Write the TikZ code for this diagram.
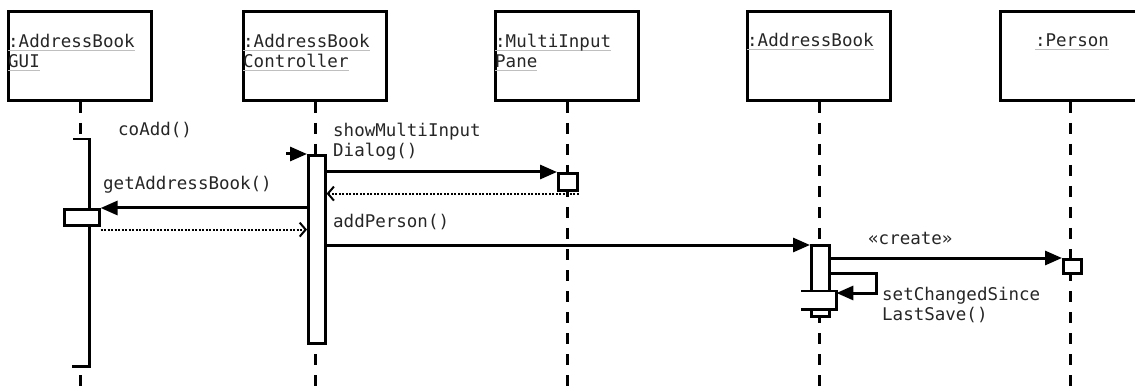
\documentclass[tikz,border=0pt]{standalone}
\usepackage{fontspec}
\setmonofont{DejaVu Sans Mono}
\usetikzlibrary{arrows.meta}
\newcommand\gul[1]{\setbox0\hbox{#1}\rlap{\color{black!25}\rule[-3.5pt]{\wd0}{1.6pt}}\box0}
\begin{document}
\begin{tikzpicture}[x=1pt,y=-1pt,
  objbox/.style={draw, line width=3pt, minimum width=143pt, minimum height=89pt, inner sep=0pt, anchor=north},
  life/.style={line width=3pt, dash pattern=on 11pt off 10pt},
  act/.style={draw, fill=white, line width=2.6pt, inner sep=0pt, anchor=north west},
  actopen/.style={fill=white, inner sep=0pt, anchor=north west},
  edge/.style={line width=2.6pt},
  msg/.style={line width=3pt, -{Triangle[length=17pt,width=14pt]}},
  ret/.style={line width=2pt, dash pattern=on 2pt off 1.5pt, -{Straight Barb[length=6pt,width=14pt,line width=2pt]}},
  txt/.style={font=\ttfamily\fontsize{17.5}{20}\selectfont, inner sep=0pt, text=black!85, align=left}
]
\useasboundingbox (0,0) rectangle (1135,390);
\clip (0,0) rectangle (1135,390);

% object boxes
\node[objbox] (gui) at (80,10) {};
\node[objbox] (ctl) at (315,10) {};
\node[objbox] (mip) at (567,10) {};
\node[objbox] (ab) at (819,10) {};
\node[objbox, minimum width=140pt] (per) at (1070,10) {};

\node[txt, anchor=base west] (guit) at ([xshift=1pt,yshift=-58pt]gui.north west) {\gul{:AddressBook}\\\gul{GUI}};
\node[txt, anchor=base west] (ctlt) at ([xshift=1pt,yshift=-58pt]ctl.north west) {\gul{:AddressBook}\\\gul{Controller}};
\node[txt, anchor=base west] (mipt) at ([xshift=1pt,yshift=-58pt]mip.north west) {\gul{:MultiInput}\\\gul{Pane}};
\node[txt, anchor=base west] (abt) at ([xshift=1pt,yshift=-37pt]ab.north west) {\gul{:AddressBook}};
\node[txt, anchor=base] (pert) at ([xshift=2pt,yshift=-37pt]per.north) {\gul{:Person}};

% lifelines
\coordinate (guiend) at (80,390);
\coordinate (ctlend) at (315,390);
\coordinate (mipend) at (567,390);
\coordinate (abend) at (819,390);
\coordinate (perend) at (1070,390);
\draw[life] (gui.south) -- (guiend);
\draw[life] (ctl.south) -- (ctlend);
\draw[life] (mip.south) -- (mipend);
\draw[life] (ab.south) -- (abend);
\draw[life] (per.south) -- (perend);

% activations
\node[actopen, minimum width=15pt, minimum height=227pt] (gact) at (74,139) {};
\draw[edge] ([xshift=-1pt]gact.north west) -- (gact.north east) -- (gact.south east) -- ([xshift=-2pt]gact.south west);
\node[act, minimum width=35pt, minimum height=16pt] (gbox) at (63,208) {};
\node[act, minimum width=17pt, minimum height=188pt] (cact) at (307,154) {};
\node[act, minimum width=19pt, minimum height=17pt] (mbox) at (557,172) {};
\node[act, minimum width=18pt, minimum height=71pt] (abact) at (810,244) {};
\node[actopen, minimum width=35pt, minimum height=18pt] (nest) at (801,291) {};
\draw[edge] (nest.north west) -- (nest.north east) -- (nest.south east) -- (nest.south west);
\node[act, minimum width=18pt, minimum height=14pt] (pbox) at (1062,258) {};

% messages
\coordinate (cin) at (286,154);
\draw[msg] (cin) -- (cact.north west);
\node[txt, anchor=base west] (coadd) at (118,136) {coAdd()};

\draw[msg] (mbox.north west -| cact.east) -- (mbox.north west);
\node[txt, anchor=base west] (showl) at (333,157) {showMultiInput\\Dialog()};
\draw[ret] ([yshift=-2pt]mbox.south east) -- ([yshift=-2pt]mbox.south east -| cact.east);

\draw[msg] (gbox.north east -| cact.west) -- (gbox.north east);
\node[txt, anchor=base west] (getl) at (103,190) {getAddressBook()};
\draw[ret] ([yshift=-3pt]gbox.south east) -- ([yshift=-3pt]gbox.south east -| cact.west);

\draw[msg] ([yshift=-1pt]abact.north west -| cact.east) -- ([yshift=-1pt]abact.north west);
\node[txt, anchor=base west] (addl) at (333,228) {addPerson()};

\draw[msg] (pbox.north west -| abact.east) -- (pbox.north west);
\node[txt, anchor=base west] (crl) at (868,244) {«create»};

\draw[msg] ([yshift=-29pt]abact.north east) -- ++(46,0) |- ([yshift=-2pt]nest.north east);
\node[txt, anchor=base west] (setl) at (882,320) {setChangedSince\\LastSave()};
\end{tikzpicture}
\end{document}
